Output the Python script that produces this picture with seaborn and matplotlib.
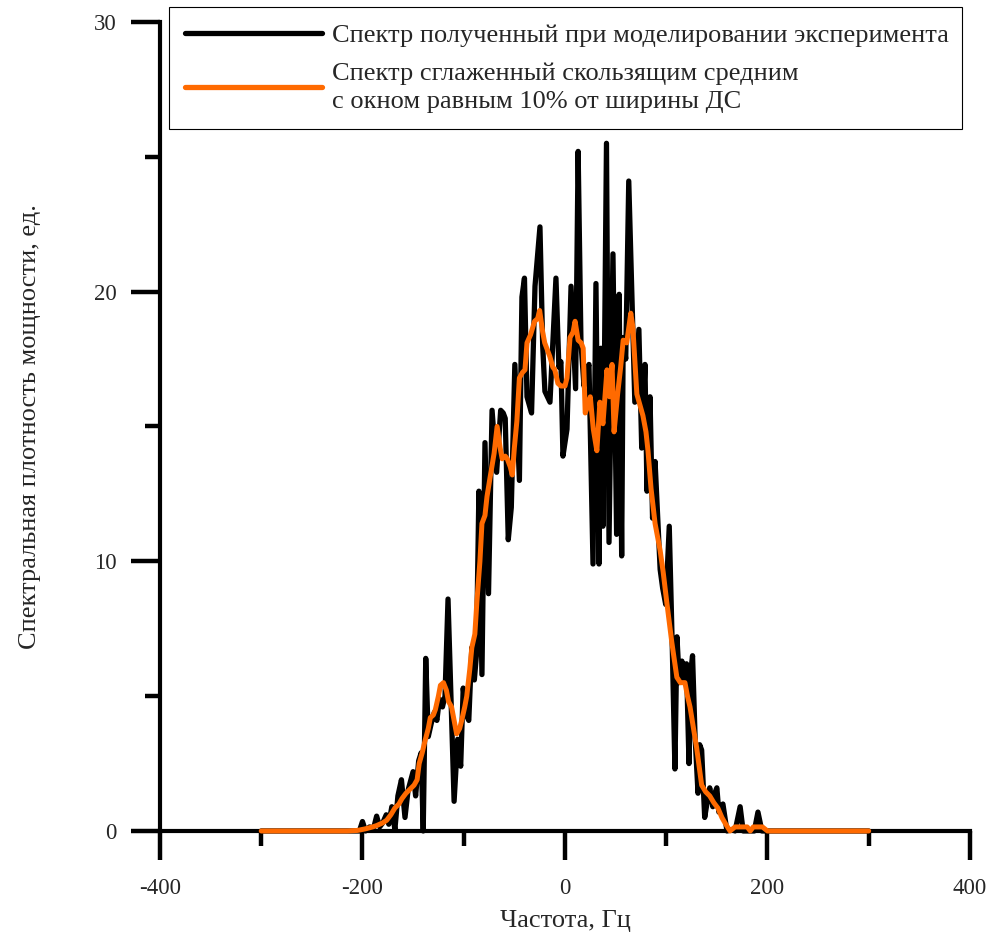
import pandas as pd
import matplotlib
matplotlib.use("Agg")
import matplotlib.pyplot as plt
import seaborn as sns
from matplotlib.ticker import FixedLocator

# raw spectrum (peaks / valleys)
black_freq = [-300, -210, -203, -200, -197, -193, -189, -186, -183, -180, -176.5, -174, -171, -168,
              -165, -161.5, -158, -155, -150, -147.5, -144.5, -142, -140, -137.5, -135, -132, -129,
              -126.5, -124, -121, -118.5, -115.5, -109.5, -106, -103, -100.5, -97.5, -95, -92, -89.5,
              -87.5, -85, -82, -79, -75.5, -72, -67.5, -63.5, -61, -59, -56, -53, -49.5, -45, -42.5,
              -40, -37.5, -33, -29.6, -24.7, -22, -19.8, -14.8, -8.9, -6, -4, -2, 2, 6, 10.5, 13,
              15.8, 18.8, 21, 23.7, 27.7, 30.6, 33.6, 35.5, 37.5, 41, 43.5, 47.4, 51, 53.5, 56, 57.5,
              60, 63, 69, 73, 75.8, 79, 81, 84, 86.5, 89, 94, 96.5, 99.5, 103, 106, 108.6, 110.6,
              113, 115.5, 118, 120, 122.5, 124.5, 126, 128.5, 131.4, 133, 135, 138, 141, 143, 146,
              148, 150, 152, 154, 156, 160, 165, 168, 173, 176, 187, 190.6, 194.5, 300]
black_val = [0, 0, 0, 0.35, 0, 0.15, 0.1, 0.55, 0.15, 0.3, 0.6, 0.25, 0.9, 0.05,
             1.3, 1.9, 0.5, 1.5, 2.2, 1.3, 2.6, 2.9, 0.0, 6.4, 3.5, 4.0, 4.4,
             4.1, 4.9, 4.6, 5.0, 8.6, 1.1, 3.4, 2.4, 5.3, 4.3, 4.1, 6.8, 5.6,
             6.5, 12.6, 5.8, 14.4, 8.8, 15.6, 13.3, 15.6, 15.5, 15.3, 10.8, 12.0, 17.3, 13.0, 19.8,
             20.5, 16.1, 15.5, 20.2, 22.4, 18.0, 16.3, 15.9, 20.5, 17.2, 17.4, 13.9, 14.9, 20.2, 16.4, 25.2,
             18.1, 16.5, 17.0, 17.3, 9.9, 20.3, 9.9, 17.9, 11.3, 25.5, 10.7, 21.4, 11.0, 19.9, 10.2, 18.3,
             17.5, 24.1, 15.9, 18.6, 14.2, 17.3, 12.6, 16.1, 11.6, 13.7, 9.7, 9.0, 8.4, 11.3, 6.8, 2.3, 7.2,
             5.5, 6.3, 5.6, 6.2, 2.5, 6.0, 6.5, 3.5, 1.4, 3.2, 3.0, 0.5, 1.2, 1.6, 0.9,
             1.4, 1.6, 0.7, 0.9, 1.0, 0, 0.05, 0, 0.9, 0, 0, 0.7, 0, 0]

# moving-average curve
smooth_freq = [-300, -215, -205, -197, -190, -186, -180, -176, -172, -168, -164, -161, -157, -153,
               -149, -146, -144, -141, -138.5, -135, -133, -130, -128, -125, -123, -120, -117, -115,
               -112, -110, -107, -104, -102, -99, -97, -94, -92, -89, -87, -84, -82, -79, -77, -74,
               -70, -67, -64, -62, -59, -57, -54, -52, -50, -47.5, -45, -42, -39.5, -37.5, -34, -30,
               -27, -25, -22, -20, -17, -15, -12, -10, -7, -4, 0, 2, 5, 8, 10, 13, 16, 18, 20, 23, 25,
               28, 31.5, 34.5, 37.5, 41.5, 44, 46.5, 48.5, 52, 55, 57.5, 61, 65, 67, 71, 74, 77, 80,
               82, 85, 89, 94, 97, 100.5, 105.5, 110.5, 114, 118.5, 121, 123.5, 127, 130, 135, 139,
               143, 147, 151, 155, 158, 163, 168, 180, 183, 186, 195, 200, 300]
smooth_val = [0, 0, 0.02, 0.08, 0.15, 0.2, 0.3, 0.4, 0.6, 0.85, 1.0, 1.2, 1.4, 1.55,
              1.7, 1.9, 2.5, 2.9, 3.3, 3.8, 4.2, 4.3, 4.5, 5.0, 5.4, 5.5, 5.2, 4.8,
              4.6, 4.2, 3.6, 3.8, 4.1, 4.6, 5.0, 6.0, 6.8, 7.3, 8.5, 10.0, 11.4, 11.7, 12.4, 13.1,
              14.0, 15.0, 14.2, 13.8, 13.9, 13.8, 13.5, 13.2, 14.2, 15.2, 16.8, 17.0, 17.1, 18.1, 18.4, 18.9,
              19.0, 19.3, 18.5, 18.1, 17.8, 17.6, 17.2, 17.1, 16.6, 16.5, 16.5, 16.8, 18.3, 18.5, 18.9, 18.2, 18.1, 17.9, 15.5, 15.8, 16.1,
              14.9, 14.1, 15.9, 15.1, 17.1, 16.1, 17.3, 14.8, 16.2, 17.2, 18.2, 18.1, 19.2, 18.7, 16.2, 15.8, 15.4, 14.8,
              14.1, 12.7, 11.4, 10.4, 9.6, 8.5, 7.0, 5.7, 5.5, 5.5, 5.0, 4.6, 3.8, 3.1, 1.7, 1.45,
              1.3, 1.05, 0.85, 0.5, 0.3, 0.0, 0.15, 0.15, 0.0, 0.15, 0.15, 0.0, 0]

x_major = [-400, -200, 0, 200, 400]
x_minor = [-300, -100, 100, 300]
y_major = [0, 10, 20, 30]
y_minor = [5, 15, 25]

label_raw = "Спектр полученный при моделировании эксперимента"
label_smooth = "Спектр сглаженный скользящим средним\nс окном равным 10% от ширины ДС"

sns.set_theme(style="white")
plt.rcParams['font.family'] = ['Liberation Serif', 'DejaVu Serif']
plt.rcParams['axes.unicode_minus'] = False

raw = pd.DataFrame({"freq": black_freq, "val": black_val})
smooth = pd.DataFrame({"freq": smooth_freq, "val": smooth_val})

fig = plt.figure(figsize=(10.01, 9.38), dpi=100)
ax = fig.add_axes([0.1598, 0.1141, 0.8092, 0.8625])

sns.lineplot(data=raw, x="freq", y="val", ax=ax, color="black", lw=3.8,
             estimator=None, sort=False, label=label_raw, zorder=3, clip_on=False)
sns.lineplot(data=smooth, x="freq", y="val", ax=ax, color="#ff6a00", lw=3.6,
             estimator=None, sort=False, label=label_smooth, zorder=4, clip_on=False)

ax.set_xlim(-400, 400)
ax.set_ylim(0, 30)
ax.xaxis.set_major_locator(FixedLocator(x_major))
ax.xaxis.set_minor_locator(FixedLocator(x_minor))
ax.yaxis.set_major_locator(FixedLocator(y_major))
ax.yaxis.set_minor_locator(FixedLocator(y_minor))
ax.set_xticklabels([str(v) for v in x_major])
ax.set_yticklabels([str(v) for v in y_major])

for s in ["top", "right"]:
    ax.spines[s].set_visible(False)
for s in ["left", "bottom"]:
    ax.spines[s].set_linewidth(3)
    ax.spines[s].set_color("black")

ax.tick_params(axis="x", which="major", pad=13)
ax.tick_params(axis="y", which="major", pad=10)
ax.tick_params(which="major", direction="out", length=21, width=3.2, color="black",
               labelsize=16.5, bottom=True, left=True)
ax.tick_params(which="minor", direction="out", length=11, width=3.2, color="black",
               bottom=True, left=True)

ax.set_xlabel("Частота, Гц", fontsize=19, labelpad=8)
ax.set_ylabel("Спектральная плотность мощности, ед.", fontsize=19, labelpad=38)

leg = ax.legend(loc="upper left", bbox_to_anchor=(0.011, 0.868, 0.979, 0.1505), mode="expand",
                borderaxespad=0, fontsize=19, handlelength=5.2, handletextpad=0.35,
                borderpad=0.62, labelspacing=0.6, fancybox=False, frameon=True,
                edgecolor="black", framealpha=1)
leg.get_frame().set_linewidth(0.8)
for line in leg.get_lines():
    line.set_linewidth(3.8)
for t in leg.get_texts():
    t.set_linespacing(1.35)

fig.savefig("out.png", dpi=100)
